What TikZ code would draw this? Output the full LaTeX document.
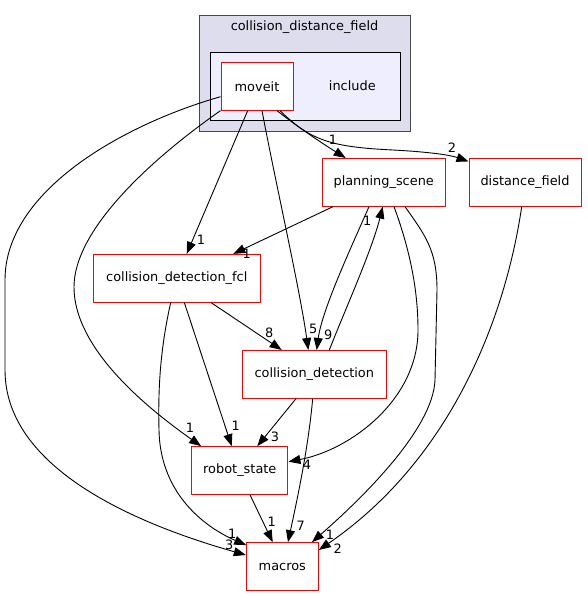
\documentclass[tikz,border=0pt]{standalone}
\usepackage{fontspec}
\setmainfont{DejaVu Sans}
\usetikzlibrary{arrows.meta}
\begin{document}
\begin{tikzpicture}[x=1pt,y=-1pt,
  every node/.style={font=\fontsize{12.9}{15}\selectfont},
  dirnode/.style={draw=red,fill=white,line width=1pt,minimum height=47.7pt,inner sep=0pt,anchor=center},
  edge/.style={line width=0.9pt,-{Triangle[length=12pt,width=9pt]}},
  elabel/.style={inner sep=0pt,anchor=center}]
\useasboundingbox (0,0) rectangle (587,596);
% clusters
\draw[draw=black!72,fill={rgb,255:red,221;green,221;blue,238},line width=1.2pt] (199.3,15.7) rectangle (410.7,131.7);
\node[inner sep=0pt] (cdflabel) at (304.5,26.7) {collision\_distance\_field};
\draw[draw=black,fill={rgb,255:red,238;green,238;blue,255},line width=1pt] (210.7,52.3) rectangle (400,121);
\node[inner sep=0pt] (inclabel) at (352.3,86) {include};
% nodes
\node[dirnode,minimum width=72pt] (moveit) at (257,86.3) {moveit};
\node[dirnode,minimum width=122.7pt] (ps) at (383.7,182.3) {planning\_scene};
\node[dirnode,minimum width=112pt] (df) at (525,182.3) {distance\_field};
\node[dirnode,minimum width=167pt] (fcl) at (176.8,278.2) {collision\_detection\_fcl};
\node[dirnode,minimum width=144pt] (cd) at (314.3,374.3) {collision\_detection};
\node[dirnode,minimum width=96.3pt] (rs) at (239.8,470.5) {robot\_state};
\node[dirnode,minimum width=72pt] (macros) at (282.3,566.5) {macros};
% edges
\draw[edge] ([yshift=-10.4pt]moveit.west) .. controls (125,124) and (5,190) .. (5,280) -- (5,370) .. controls (5,470) and (140,525) .. ([yshift=11.5pt]macros.west);
\draw[edge] (moveit.south west) .. controls (150,160) and (74,230) .. (74,287) .. controls (74,350) and (150,410) .. ([xshift=10pt]rs.north west);
\draw[edge] ([xshift=-9.3pt]moveit.south) -- ([xshift=9.9pt]fcl.north);
\draw[edge] ([xshift=5pt]moveit.south) .. controls (275,180) and (300,290) .. ([xshift=-6pt]cd.north);
\draw[edge] ([xshift=20pt]moveit.south) .. controls (295,125) and (320,142) .. ([xshift=-38pt]ps.north);
\draw[edge] ([xshift=23pt]moveit.south) .. controls (310,140) and (330,147) .. (393,150) .. controls (430,152) and (450,155) .. ([yshift=-3.5pt]df.north west);
\draw[edge] ([xshift=-50.7pt]ps.south) -- ([xshift=56.5pt]fcl.north);
\draw[edge] ([xshift=-14.7pt]ps.south) .. controls (350,250) and (322,310) .. ([xshift=2.4pt]cd.north);
\draw[edge] ([xshift=15pt]cd.north) .. controls (345,310) and (372,250) .. ([xshift=-1pt]ps.south);
\draw[edge] ([xshift=10.3pt]ps.south) .. controls (410,250) and (418,290) .. (418,330) .. controls (418,400) and (350,450) .. ([yshift=8.8pt]rs.east);
\draw[edge] ([xshift=21.3pt]ps.south) .. controls (425,235) and (437,250) .. (437,290) -- (435,380) .. controls (433,430) and (360,500) .. ([xshift=29.7pt]macros.north);
\draw[edge] ([xshift=-3.3pt]df.south) .. controls (505,320) and (450,460) .. ([yshift=16.5pt]macros.east);
\draw[edge] ([xshift=-6.1pt]fcl.south) .. controls (160,350) and (158,390) .. (159,430) .. controls (160,490) and (200,525) .. ([xshift=0.4pt,yshift=-3pt]macros.north west);
\draw[edge] ([xshift=7.5pt]fcl.south) -- ([xshift=-8.1pt]rs.north);
\draw[edge] ([xshift=34.2pt]fcl.south) -- ([xshift=-32.6pt]cd.north);
\draw[edge] ([xshift=-18.3pt]cd.south) -- ([xshift=17.5pt]rs.north);
\draw[edge] ([xshift=-1.6pt]cd.south) .. controls (308,450) and (297,500) .. ([xshift=5.7pt]macros.north);
\draw[edge] ([xshift=10.2pt]rs.south) -- ([xshift=-9.6pt]macros.north);
% edge labels
\node[elabel] (l1) at (229.3,544.3) {3};
\node[elabel] (l2) at (190,428) {1};
\node[elabel] (l3) at (201,240) {1};
\node[elabel] (l4) at (313.3,329.3) {5};
\node[elabel] (l5) at (333,140) {1};
\node[elabel] (l6) at (452,148) {2};
\node[elabel] (l7) at (246.7,253.3) {1};
\node[elabel] (l8) at (328.3,335) {9};
\node[elabel] (l9) at (367.3,220.7) {1};
\node[elabel] (l10) at (307,465) {4};
\node[elabel] (l11) at (330,535) {1};
\node[elabel] (l12) at (337.7,549) {2};
\node[elabel] (l13) at (232.3,533.3) {1};
\node[elabel] (l14) at (235.7,426) {1};
\node[elabel] (l15) at (269.3,332.7) {8};
\node[elabel] (l16) at (275,436.7) {3};
\node[elabel] (l17) at (300.7,526) {7};
\node[elabel] (l18) at (271.7,521.7) {1};
\end{tikzpicture}
\end{document}
